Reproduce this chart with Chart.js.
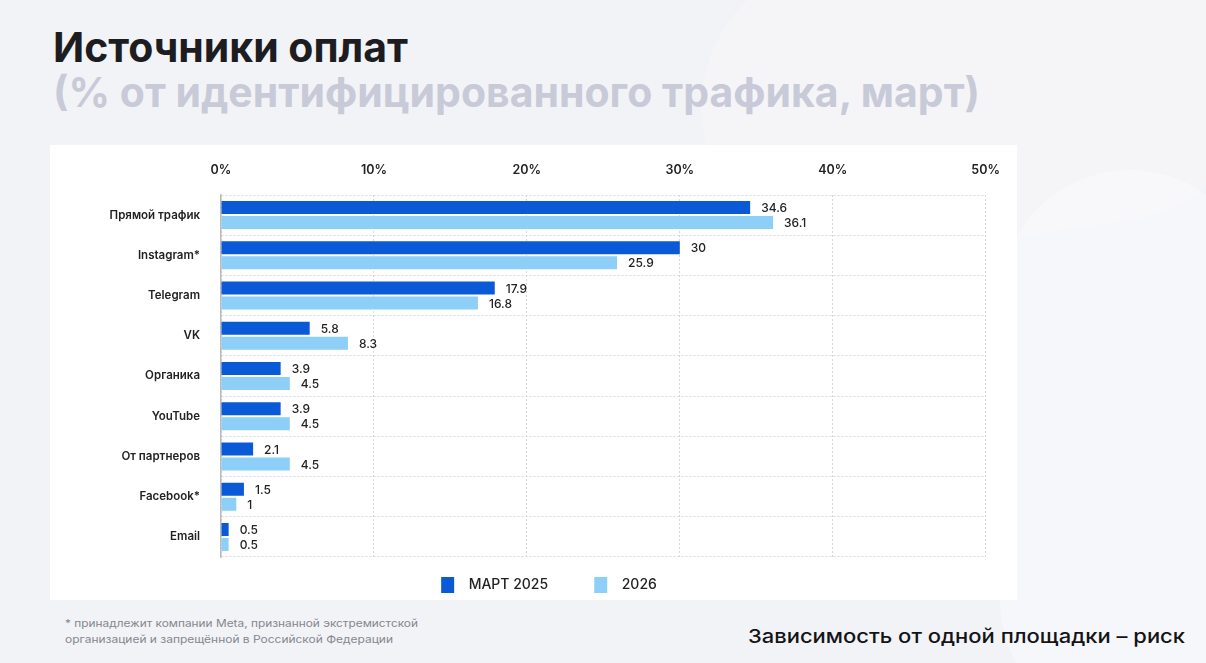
<!DOCTYPE html>
<html><head><meta charset="utf-8">
<script src="https://cdn.jsdelivr.net/npm/chart.js@4.4.1/dist/chart.umd.min.js"></script>
<style>
html,body{margin:0;padding:0;}
body{width:1206px;height:663px;background:#f2f3f7;position:relative;overflow:hidden;font-family:Inter,"Noto Sans",sans-serif;}
.t{position:absolute;white-space:nowrap;line-height:1;transform-origin:0 0;}
.shape{position:absolute;background:#ffffff;}
#panel{position:absolute;left:50px;top:145px;width:967px;height:455px;background:#fff;}
#wrap{position:absolute;left:50px;top:145px;width:967px;height:470px;}
</style></head>
<body>
<div class="shape" style="left:700px;top:-60px;width:560px;height:300px;border-radius:160px;opacity:0.22;transform:rotate(-8deg);"></div>
<div class="shape" style="left:1000px;top:170px;width:260px;height:560px;border-radius:140px;opacity:0.35;"></div>
<div id="title" class="t" data-w="355" style="left:53px;top:27px;font-size:41px;font-weight:700;color:#1d1d21;">Источники оплат</div>
<div id="sub" class="t" data-w="927" style="left:53px;top:72px;font-size:41px;font-weight:700;color:#c8cad8;">(% от идентифицированного трафика, март)</div>
<div id="panel"></div>
<div id="wrap"><canvas id="c" width="967" height="470"></canvas></div>
<div class="t" data-w="353" style="left:65px;top:619px;font-size:10.5px;color:#85868e;">* принадлежит компании Meta, признанной экстремистской</div>
<div class="t" data-w="328" style="left:65px;top:635px;font-size:10.5px;color:#85868e;">организацией и запрещённой в Российской Федерации</div>
<div class="t" data-w="437" style="left:748px;top:627px;font-size:19px;font-weight:500;color:#141416;">Зависимость от одной площадки – риск</div>
<script>
const categories = ["Прямой трафик","Instagram*","Telegram","VK","Органика","YouTube","От партнеров","Facebook*","Email"];
const seriesNames = ["МАРТ 2025","2026"];
const values2025 = [34.6,30,17.9,5.8,3.9,3.9,2.1,1.5,0.5];
const values2026 = [36.1,25.9,16.8,8.3,4.5,4.5,4.5,1,0.5];
const xTicks = [0,10,20,30,40,50];

document.querySelectorAll('.t[data-w]').forEach(el=>{
  const w = el.getBoundingClientRect().width;
  const target = parseFloat(el.dataset.w);
  el.style.transform = 'scaleX(' + (target / w) + ')';
});

const FONT = 'Inter, "Noto Sans", sans-serif';

const valueLabels = {
  id:'valueLabels',
  afterDatasetsDraw(chart){
    const ctx = chart.ctx;
    ctx.save();
    ctx.font = '500 12px ' + FONT;
    ctx.fillStyle = '#222';
    ctx.textAlign = 'left';
    ctx.textBaseline = 'middle';
    chart.data.datasets.forEach((ds,i)=>{
      const meta = chart.getDatasetMeta(i);
      meta.data.forEach((el,j)=>{
        ctx.fillText(String(ds.data[j]), el.x + 11, el.y + 1);
      });
    });
    ctx.restore();
  }
};

new Chart(document.getElementById('c'), {
  type:'bar',
  data:{
    labels:categories,
    datasets:[
      {label:seriesNames[0], data:values2025, backgroundColor:'#0a5ad8', categoryPercentage:0.745, barPercentage:0.867},
      {label:seriesNames[1], data:values2026, backgroundColor:'#8dcff7', categoryPercentage:0.745, barPercentage:0.867}
    ]
  },
  options:{
    indexAxis:'y',
    responsive:false,
    animation:false,
    devicePixelRatio:1,
    layout:{padding:{left:58,right:27,top:0,bottom:12}},
    plugins:{
      tooltip:{enabled:false},
      legend:{
        position:'bottom',
        labels:{
          boxWidth:13, boxHeight:16, padding:20, color:'#222',
          font:{family:FONT, size:14, weight:'500'},
          generateLabels(chart){
            const n = chart.data.datasets.length;
            return chart.data.datasets.map((ds,i)=>({
              text:'  ' + ds.label + (i < n-1 ? '       ' : ''),
              fillStyle:ds.backgroundColor, strokeStyle:ds.backgroundColor,
              lineWidth:0, hidden:false, datasetIndex:i, fontColor:'#222'
            }));
          }
        }
      }
    },
    scales:{
      x:{
        position:'top', min:0, max:50,
        afterFit(s){ s.height = 50; },
        afterBuildTicks(s){ s.ticks = xTicks.map(v=>({value:v})); },
        ticks:{ callback:v=>v+'%', padding:17, color:'#222', font:{family:FONT, size:12.5, weight:'600'} },
        grid:{ color:'#d6d6db', drawTicks:false, lineWidth:1 },
        border:{ display:false, dash:[2,2] }
      },
      y:{
        afterFit(s){ s.width = 113; },
        ticks:{ padding:21, color:'#222', font:{family:FONT, size:11.5, weight:'600'} },
        grid:{ color:'#d6d6db', drawTicks:false, offset:true, lineWidth:1 },
        border:{ display:true, color:'#b9b9be', width:1.5, dash:[2,2] }
      }
    }
  },
  plugins:[valueLabels]
});
</script>
</body></html>
